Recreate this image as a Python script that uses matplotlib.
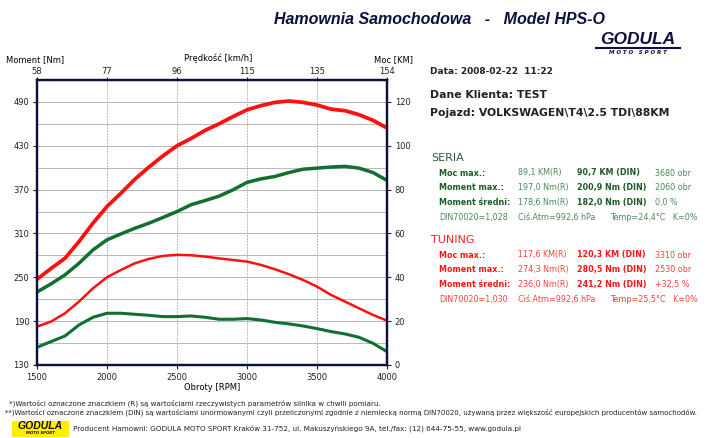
import matplotlib
matplotlib.use("Agg")
import matplotlib.pyplot as plt
from matplotlib.patches import Rectangle

# odczyt z wykresu co 100 obr/min
rpm = [1500, 1600, 1700, 1800, 1900, 2000, 2100, 2200, 2300, 2400, 2500, 2600, 2700,
       2800, 2900, 3000, 3100, 3200, 3300, 3400, 3500, 3600, 3700, 3800, 3900, 4000]

moc_tuning = [39.1, 44.0, 48.7, 56.3, 64.7, 72.3, 78.4, 84.8, 90.3, 95.4, 100.0, 103.3, 107.0,
              110.0, 113.3, 116.4, 118.3, 119.8, 120.4, 119.8, 118.6, 116.7, 116.0, 114.2, 111.6, 108.1]
moc_seria = [33.3, 37.0, 41.1, 46.4, 52.5, 57.1, 59.8, 62.4, 64.7, 67.3, 70.0, 73.1, 75.0,
             77.0, 79.9, 83.3, 84.9, 86.0, 87.8, 89.3, 89.8, 90.3, 90.6, 89.8, 87.8, 84.2]
moment_tuning = [182.5, 189.4, 200.8, 216.8, 235.0, 250.1, 260.1, 269.3, 275.2, 279.3, 280.7, 280.2, 278.4,
                 275.9, 273.7, 271.5, 267.0, 261.0, 254.2, 246.4, 237.3, 225.9, 216.8, 207.6, 198.5, 190.7]
moment_seria = [154.2, 162.0, 169.7, 184.8, 195.3, 200.8, 200.8, 199.4, 198.0, 196.2, 196.2, 197.1, 195.3,
                192.6, 192.6, 193.5, 191.6, 188.4, 186.2, 183.4, 179.8, 175.7, 172.5, 167.9, 159.7, 148.3]

x_ticks = [1500, 2000, 2500, 3000, 3500, 4000]
speed_labels = ["58", "77", "96", "115", "135", "154"]
nm_ticks = [130, 190, 250, 310, 370, 430, 490]
km_ticks = [0, 20, 40, 60, 80, 100, 120]

seria_rows = [
    ("Moc max.:", "89,1 KM(R)", "90,7 KM (DIN)", "3680 obr"),
    ("Moment max.:", "197,0 Nm(R)", "200,9 Nm (DIN)", "2060 obr"),
    ("Moment średni:", "178,6 Nm(R)", "182,0 Nm (DIN)", "0,0 %"),
]
tuning_rows = [
    ("Moc max.:", "117,6 KM(R)", "120,3 KM (DIN)", "3310 obr"),
    ("Moment max.:", "274,3 Nm(R)", "280,5 Nm (DIN)", "2530 obr"),
    ("Moment średni:", "236,0 Nm(R)", "241,2 Nm (DIN)", "+32,5 %"),
]

RED = "#ff1010"
GREEN = "#0f7030"
NAVY = "#0c1040"

W, H = 716, 438
fig = plt.figure(figsize=(W / 100, H / 100), dpi=100)
plt.rcParams["font.family"] = ["DejaVu Sans"]


def px(x, y):
    return x / W, 1 - y / H


ax = fig.add_axes([37 / W, 73 / H, 350 / W, 285 / H])
ax.set_xlim(1500, 4000)
ax.set_ylim(130, 520)
for v in range(130, 520, 30):
    ax.axhline(v, color="#b8b8b8", lw=0.7, zorder=0)
for v in x_ticks[1:-1]:
    ax.axvline(v, color="#b8b8b8", lw=0.7, ls=(0, (2, 1)), zorder=0)

axr = ax.twinx()
axr.set_ylim(0, 130)

ax.plot(rpm, moment_seria, color=GREEN, lw=2.2, solid_capstyle="round")
ax.plot(rpm, moment_tuning, color=RED, lw=1.8, solid_capstyle="round")
axr.plot(rpm, moc_seria, color=GREEN, lw=2.5, solid_capstyle="round")
axr.plot(rpm, moc_tuning, color=RED, lw=2.7, solid_capstyle="round")

ax.set_xticks(x_ticks)
ax.set_yticks(nm_ticks)
axr.set_yticks(km_ticks)
ax.tick_params(labelsize=6, length=3, width=0.8, colors="#222222", pad=2.5)
axr.tick_params(labelsize=6, length=3, width=0.8, colors="#222222", pad=2.5)

top = ax.secondary_xaxis("top")
top.set_xticks(x_ticks)
top.set_xticklabels(speed_labels)
top.tick_params(labelsize=6, length=2, width=0.8, colors="#222222", pad=1)

for a in (ax, axr):
    for s in a.spines.values():
        s.set_color(NAVY)
        s.set_linewidth(1.6)
top.spines["top"].set_color(NAVY)

ax.set_xlabel("Obroty [RPM]", fontsize=6, labelpad=1)
fig.text(*px(35, 60), "Moment [Nm]", fontsize=6, ha="center", va="center")
fig.text(*px(218, 58), "Prędkość [km/h]", fontsize=6, ha="center", va="center")
fig.text(*px(393, 60), "Moc [KM]", fontsize=6, ha="center", va="center")

# naglowek
fig.text(*px(440, 19), "Hamownia Samochodowa   -   Model HPS-O", fontsize=11.5,
         family="Liberation Sans", fontweight="bold", fontstyle="italic", color=NAVY,
         ha="center", va="center")
fig.text(*px(638, 40), "GODULA", fontsize=12.5, family="Liberation Sans", fontweight="bold",
         fontstyle="italic", color=NAVY, ha="center", va="center")
fig.add_artist(plt.Line2D([596 / W, 680 / W], [1 - 48 / H] * 2, color=NAVY, lw=1.5))
fig.text(*px(638, 53), "M O T O   S P O R T", fontsize=4, fontweight="bold",
         fontstyle="italic", color=NAVY, ha="center", va="center")

fig.text(*px(430, 72), "Data: 2008-02-22  11:22", fontsize=6.5, fontweight="bold",
         color="#222222", va="center")
fig.text(*px(430, 95), "Dane Klienta: TEST", fontsize=7.8, fontweight="bold",
         color="#222222", va="center")
fig.text(*px(430, 113), "Pojazd: VOLKSWAGEN\\T4\\2.5 TDI\\88KM", fontsize=7.8,
         fontweight="bold", color="#222222", va="center")


def blok(y0, title, rows, din, col_head, col_lab, col_val):
    fig.text(*px(431, y0), title, fontsize=8, color=col_head, va="center")
    for i, (lab, r, d, o) in enumerate(rows):
        y = y0 + 15 + i * 14.7
        fig.text(*px(439, y), lab, fontsize=5.8, fontweight="bold", color=col_lab, va="center")
        fig.text(*px(518, y), r, fontsize=5.8, color=col_val, va="center")
        fig.text(*px(577, y), d, fontsize=5.8, fontweight="bold", color=col_lab, va="center")
        fig.text(*px(655, y), o, fontsize=5.8, color=col_val, va="center")
    y = y0 + 15 + 3 * 14.7
    fig.text(*px(439, y), din[0], fontsize=5.8, color=col_val, va="center")
    fig.text(*px(518, y), din[1], fontsize=5.8, color=col_val, va="center")
    fig.text(*px(610, y), din[2], fontsize=5.8, color=col_val, va="center")


blok(158, "SERIA", seria_rows, ("DIN70020=1,028", "Ciś.Atm=992,6 hPa", "Temp=24,4°C   K=0%"),
     "#2a5a3a", "#1e5a2a", "#4c8a5c")
blok(240, "TUNING", tuning_rows, ("DIN70020=1,030", "Ciś.Atm=992,6 hPa", "Temp=25,5°C   K=0%"),
     "#ff2020", "#ff1515", "#ff4040")

# stopka
fig.text(*px(9, 403), "*)Wartości oznaczone znaczkiem (R) są wartościami rzeczywistych parametrów silnika w chwili pomiaru.",
         fontsize=5.1, color="#222222", va="center")
fig.text(*px(5, 412), "**)Wartości oznaczone znaczkiem (DIN) są wartościami unormowanymi czyli przeliczonymi zgodnie z niemiecką normą DIN70020, używaną przez większość europejskich producentów samochodów.",
         fontsize=5, color="#222222", va="center")
fig.add_artist(Rectangle((12 / W, 1 - 437 / H), 57 / W, 16 / H, transform=fig.transFigure,
                         facecolor="#ffee00", edgecolor="none"))
fig.text(*px(40, 426), "GODULA", fontsize=7.5, family="Liberation Sans", fontweight="bold",
         fontstyle="italic", color="#111111", ha="center", va="center")
fig.text(*px(40, 433), "MOTO SPORT", fontsize=2.8, fontweight="bold", fontstyle="italic",
         color="#111111", ha="center", va="center")
fig.text(*px(73, 428), "Producent Hamowni: GODULA MOTO SPORT Kraków 31-752, ul. Makuszyńskiego 9A, tel./fax: (12) 644-75-55, www.godula.pl",
         fontsize=5.2, color="#222222", va="center")

fig.savefig("out.png", dpi=100)
